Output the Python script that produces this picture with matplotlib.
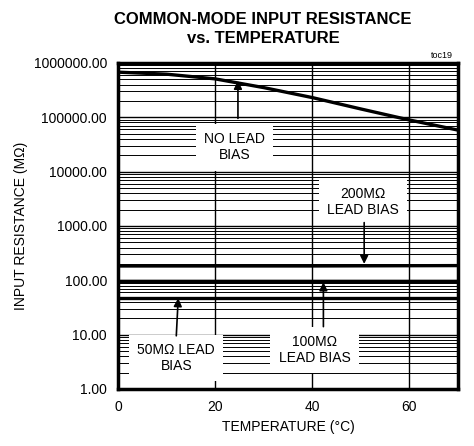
import matplotlib.pyplot as plt
from matplotlib.ticker import LogLocator, NullFormatter

plt.rcParams['font.family'] = ['Liberation Sans Narrow', 'Liberation Sans', 'DejaVu Sans']

# data
temp = [0, 10, 20, 30, 40, 50, 60, 70]
no_lead = [675000, 620000, 508000, 351000, 230000, 142000, 89000, 58000]
lead_200 = [183, 183, 183, 183, 183, 184, 185, 186]
lead_100 = [95, 95, 95, 95, 95, 95, 95, 95]
lead_50 = [47, 47, 47, 47, 47, 47, 47, 47]

yticks = [1, 10, 100, 1000, 10000, 100000, 1000000]
ytick_labels = ['%.2f' % v for v in yticks]
xticks = [0, 20, 40, 60]

fig = plt.figure(figsize=(4.74, 4.46), dpi=100)
ax = fig.add_axes([0.249, 0.128, 0.717, 0.731])

for series in (no_lead, lead_200, lead_100, lead_50):
    ax.plot(temp, series, color='black', lw=2.4, zorder=3)

ax.set_yscale('log')
ax.set_xlim(0, 70)
ax.set_ylim(1, 1000000)
ax.set_xticks(xticks)
ax.set_yticks(yticks)
ax.set_yticklabels(ytick_labels)
ax.yaxis.set_minor_locator(LogLocator(base=10, subs=range(2, 10)))
ax.yaxis.set_minor_formatter(NullFormatter())
ax.tick_params(which='both', length=0, labelsize=10, pad=8)

ax.grid(True, which='major', axis='both', color='black', lw=1.0)
ax.grid(True, which='minor', axis='y', color='black', lw=0.7)
for s in ax.spines.values():
    s.set_linewidth(2.5)

ax.set_xlabel('TEMPERATURE (°C)', fontsize=10)
ax.set_ylabel('INPUT RESISTANCE (MΩ)', fontsize=10)
fig.text(0.555, 0.935, 'COMMON-MODE INPUT RESISTANCE\nvs. TEMPERATURE', ha='center', va='center',
         fontsize=12, fontweight='bold', linespacing=1.35)
fig.text(0.955, 0.875, 'toc19', ha='right', va='center', fontsize=6.5)

box = dict(facecolor='white', edgecolor='none', pad=6)
arrow = dict(arrowstyle='-|>', color='black', lw=1.2, mutation_scale=12, shrinkA=0, shrinkB=0)

ax.text(24, 28000, 'NO LEAD\nBIAS', ha='center', va='center', fontsize=10, bbox=box, zorder=4)
ax.annotate('', xy=(24.7, 470000), xytext=(24.7, 95000), arrowprops=arrow, zorder=5)

ax.text(50.5, 2760, '200MΩ\nLEAD BIAS', ha='center', va='center', fontsize=10, bbox=box, zorder=4)
ax.annotate('', xy=(50.7, 200), xytext=(50.7, 1150), arrowprops=arrow, zorder=5)

ax.text(40.5, 5.2, '100MΩ\nLEAD BIAS', ha='center', va='center', fontsize=10, bbox=box, zorder=4)
ax.annotate('', xy=(42.3, 92), xytext=(42.3, 14), arrowprops=arrow, zorder=5)

ax.text(12, 3.7, '50MΩ LEAD\nBIAS', ha='center', va='center', fontsize=10, bbox=box, zorder=4)
ax.annotate('', xy=(12.4, 47), xytext=(12.0, 9.5), arrowprops=arrow, zorder=5)

fig.savefig('out.png', dpi=100)
